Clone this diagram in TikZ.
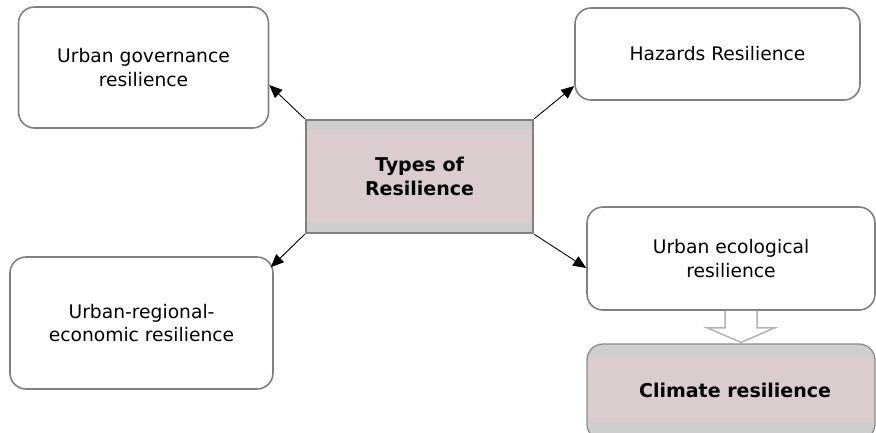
\documentclass[tikz,border=0pt]{standalone}
\usepackage{fontspec}
\setmainfont{DejaVu Sans}
\usetikzlibrary{arrows.meta,calc}
\definecolor{boxgray}{RGB}{128,128,128}
\definecolor{pinkfill}{RGB}{219,205,205}
\definecolor{bandgray}{RGB}{207,206,206}
\definecolor{hollowgray}{RGB}{180,180,180}
\tikzset{
  rbox/.style={draw=boxgray, line width=1.6pt, rounded corners=16pt, fill=white,
    align=center, inner sep=0pt, font=\fontsize{18.7}{23.5}\selectfont},
  mainbox/.style={draw=boxgray, line width=2.5pt, fill=pinkfill, align=center,
    inner sep=0pt, font=\fontsize{19}{24}\selectfont\bfseries,
    path picture={
      \fill[bandgray] (path picture bounding box.north west) rectangle ([yshift=-10pt]path picture bounding box.north east);
      \fill[bandgray] (path picture bounding box.south west) rectangle ([yshift=10pt]path picture bounding box.south east);
    }},
  climbox/.style={draw=boxgray!90, line width=1.3pt, rounded corners=16pt, fill=bandgray,
    align=center, inner sep=0pt,
    path picture={
      \fill[pinkfill, sharp corners] ([xshift=2pt,yshift=-14pt]path picture bounding box.north west) rectangle ([xshift=-2pt,yshift=18pt]path picture bounding box.south east);
    }},
  cliptext/.style={font=\fontsize{19}{24}\selectfont\bfseries, inner sep=0pt},
  arr/.style={draw=black, line width=0.9pt, -{Triangle[length=13pt,width=11pt]}},
  hollow/.style={draw=hollowgray, line width=1.5pt, fill=white, line join=miter}
}
\begin{document}
\begin{tikzpicture}[x=1pt,y=-1pt]
\useasboundingbox (0,0) rectangle (876,432);
\begin{scope}
\clip (0,0) rectangle (876,432);
\node[rbox, minimum width=250pt, minimum height=121pt] (gov) at (143.5,67.5) {Urban governance\\resilience};
\node[rbox, minimum width=285pt, minimum height=92pt] (haz) at (717.5,54) {Hazards Resilience};
\node[mainbox, minimum width=227pt, minimum height=113pt] (types) at (419.5,176.5) {Types of\\Resilience};
\node[rbox, minimum width=263pt, minimum height=132pt] (reg) at (141.5,323) {Urban-regional-\\economic resilience};
\node[rbox, minimum width=288pt, minimum height=103pt] (eco) at (731,258.5) {Urban ecological\\resilience};
\node[climbox, minimum width=288pt, minimum height=96pt] (clim) at (731,392) {};
\node[cliptext] (climtext) at (735,390) {Climate resilience};

\draw[arr] (types.north west) -- ($(gov.east)+(0,17.5)$);
\draw[arr] (types.north east) -- ($(haz.west)+(0,32)$);
\draw[arr] (types.south west) -- ($(reg.north east)+(-3,11)$);
\draw[arr] (types.south east) -- ($(eco.west)+(0,9.5)$);

\coordinate (hs) at ($(eco.south)+(10,0)$);
\coordinate (ht) at ($(clim.north)+(10,-1)$);
\draw[hollow] ($(hs)+(-16,0)$) -- ($(hs)+(-16,17)$) -- ($(hs)+(-34,17)$) -- (ht)
  -- ($(hs)+(34,17)$) -- ($(hs)+(16,17)$) -- ($(hs)+(16,0)$);
\end{scope}
\end{tikzpicture}
\end{document}
